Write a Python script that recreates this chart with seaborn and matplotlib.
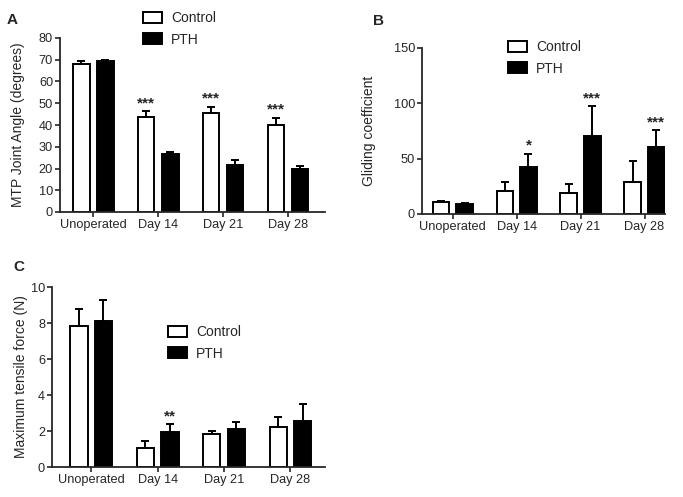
import pandas as pd
import numpy as np
import matplotlib
matplotlib.use("Agg")
import matplotlib.pyplot as plt
import seaborn as sns
from matplotlib.patches import Patch

# Data
days = ["Unoperated", "Day 14", "Day 21", "Day 28"]
groups = ["Control", "PTH"]

# A: MTP joint angle (degrees)
angle_ctrl = [68.2, 43.8, 45.6, 40.0]
angle_ctrl_sem = [1.0, 2.6, 2.8, 3.4]
angle_pth = [69.3, 26.5, 21.5, 19.6]
angle_pth_sem = [0.8, 1.1, 2.5, 1.4]
angle_stars = ["***", "***", "***"]   # above Control, Day 14/21/28

# B: gliding coefficient
glide_ctrl = [10.5, 21.0, 19.0, 29.0]
glide_ctrl_sem = [1.0, 7.5, 8.0, 19.0]
glide_pth = [9.0, 42.5, 70.5, 60.5]
glide_pth_sem = [1.0, 12.0, 27.0, 15.5]
glide_stars = ["*", "***", "***"]     # above PTH, Day 14/21/28

# C: maximum tensile force (N)
force_ctrl = [7.85, 1.05, 1.82, 2.2]
force_ctrl_sem = [0.95, 0.4, 0.2, 0.6]
force_pth = [8.12, 1.97, 2.1, 2.55]
force_pth_sem = [1.16, 0.41, 0.4, 0.93]
force_stars = ["**", "", ""]           # above PTH, Day 14

sns.set_style("ticks")
plt.rcParams["font.family"] = ["Liberation Sans", "DejaVu Sans"]

W, H = 683, 497
fig = plt.figure(figsize=(6.83, 4.97), dpi=100)
axA = fig.add_axes([60 / W, 1 - 212 / H, 265 / W, 174 / H])
axB = fig.add_axes([422 / W, 1 - 214 / H, 243 / W, 166 / H])
axC = fig.add_axes([52 / W, 1 - 467 / H, 273 / W, 180 / H])


def draw_panel(ax, ctrl, ctrl_err, pth, pth_err, stars, star_on, ylabel, yticks, xlim, label_x):
    df = pd.DataFrame({
        "day": days * 2,
        "group": [groups[0]] * 4 + [groups[1]] * 4,
        "value": ctrl + pth,
    })
    sns.barplot(data=df, x="day", y="value", hue="group", order=days, hue_order=groups,
                palette={"Control": "white", "PTH": "black"}, errorbar=None,
                width=0.74, gap=0.3, edgecolor="black", linewidth=1.4,
                legend=False, ax=ax)
    errs = ctrl_err + pth_err
    vals = ctrl + pth
    bars = ax.patches[:8]
    for bar, v, e in zip(bars, vals, errs):
        cx = bar.get_x() + bar.get_width() / 2
        ax.errorbar(cx, v, yerr=[[0], [e]], color="black", elinewidth=1.4,
                    capsize=3.2, capthick=1.4, zorder=1)
    # significance stars for days 14, 21, 28
    for i, s in enumerate(stars):
        if not s:
            continue
        k = i + 1 if star_on == "Control" else i + 5
        bar = bars[k]
        cx = bar.get_x() + bar.get_width() / 2
        top = vals[k] + errs[k]
        ax.text(cx, top + yticks[-1] * 0.005, s, ha="center", va="bottom",
                fontsize=11, fontweight="bold")
    ax.set_xlim(*xlim)
    ax.set_ylim(0, yticks[-1])
    ax.set_yticks(yticks)
    ax.set_xlabel("")
    ax.set_ylabel(ylabel, fontsize=10)
    ax.yaxis.set_label_coords(label_x, 0.5)
    ax.tick_params(axis="both", labelsize=9.2, width=1.2, length=3.5, pad=1.5)
    for sp in ["left", "bottom"]:
        ax.spines[sp].set_linewidth(1.3)
    sns.despine(ax=ax)


draw_panel(axA, angle_ctrl, angle_ctrl_sem, angle_pth, angle_pth_sem, angle_stars,
           "Control", "MTP Joint Angle (degrees)", list(range(0, 81, 10)), (-0.51, 3.57),
           (25 - 60) / 265)
draw_panel(axB, glide_ctrl, glide_ctrl_sem, glide_pth, glide_pth_sem, glide_stars,
           "PTH", "Gliding coefficient", [0, 50, 100, 150], (-0.48, 3.32),
           (376 - 422) / 243)
draw_panel(axC, force_ctrl, force_ctrl_sem, force_pth, force_pth_sem, force_stars,
           "PTH", "Maximum tensile force (N)", [0, 2, 4, 6, 8, 10], (-0.59, 3.52),
           (28 - 52) / 273)

handles = [Patch(facecolor="white", edgecolor="black", linewidth=1.4),
           Patch(facecolor="black", edgecolor="black", linewidth=1.4)]
leg_kw = dict(frameon=False, fontsize=10, handlelength=1.4, handleheight=0.85,
              handletextpad=0.6, labelspacing=0.55, borderaxespad=0, borderpad=0,
              loc="upper left")
fig.legend(handles, groups, bbox_to_anchor=(143 / W, 1 - 11 / H), **leg_kw)
fig.legend(handles, groups, bbox_to_anchor=(508 / W, 1 - 40 / H), **leg_kw)
fig.legend(handles, groups, bbox_to_anchor=(168 / W, 1 - 325 / H), **leg_kw)

for lab, x, y in [("A", 7, 24), ("B", 373, 25), ("C", 13, 271)]:
    fig.text(x / W, 1 - y / H, lab, fontsize=11, fontweight="bold")

fig.savefig("out.png", dpi=100)
